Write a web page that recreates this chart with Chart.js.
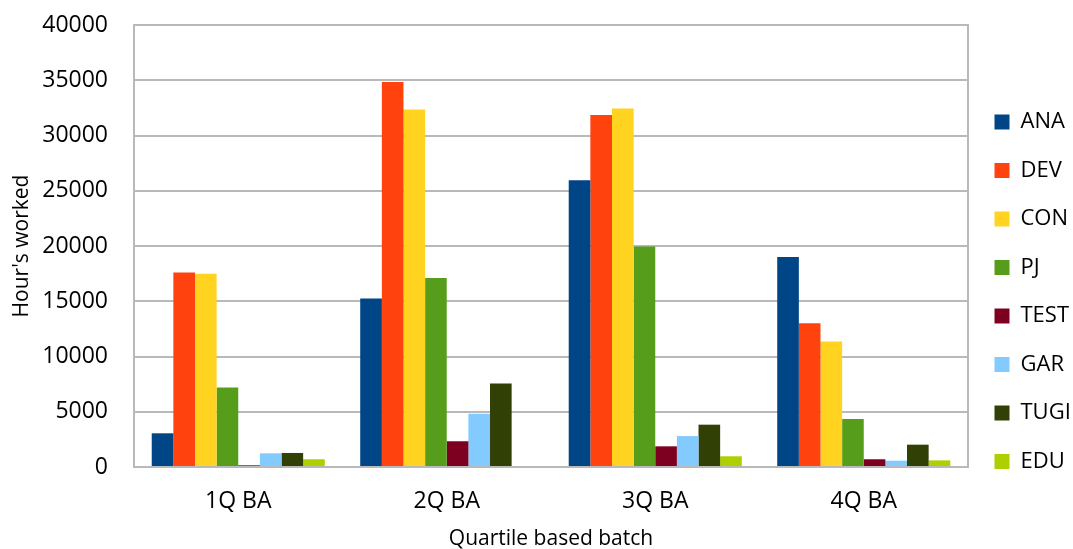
<!DOCTYPE html>
<html>
<head>
<meta charset="utf-8">
<script src="https://cdn.jsdelivr.net/npm/chart.js@4/dist/chart.umd.min.js"></script>
<style>
  body { margin: 0; background: #fff; }
  #wrap { width: 1073px; height: 549px; }
</style>
</head>
<body>
<div id="wrap"><canvas id="hoursChart"></canvas></div>
<script>
const batches = ['1Q BA', '2Q BA', '3Q BA', '4Q BA'];
const ANA  = [3050, 15250, 25950, 19000];
const DEV  = [17600, 34850, 31850, 13000];
const CON  = [17500, 32350, 32450, 11350];
const PJ   = [7200, 17100, 19950, 4350];
const TEST = [150, 2330, 1870, 700];
const GAR  = [1240, 4830, 2800, 570];
const TUGI = [1270, 7550, 3830, 2020];
const EDU  = [700, 0, 970, 600];
const yTicks = [0, 5000, 10000, 15000, 20000, 25000, 30000, 35000, 40000];

const grid = '#b9b9b9';

// frame around the plot area (left, right, top, bottom)
const frame = {
    id: 'frame',
    afterDatasetsDraw(chart) {
        const a = chart.chartArea;
        const ctx = chart.ctx;
        ctx.save();
        ctx.strokeStyle = grid;
        ctx.lineWidth = 2;
        ctx.strokeRect(a.left, a.top, a.right - a.left, a.bottom - a.top);
        ctx.restore();
    }
};

Chart.defaults.font.family = "'Open Sans', sans-serif";
Chart.defaults.color = '#000';

new Chart(document.getElementById('hoursChart').getContext('2d'), {
    type: 'bar',
    data: {
        labels: batches,
        datasets: [
            { label: 'ANA',  data: ANA,  backgroundColor: '#004586' },
            { label: 'DEV',  data: DEV,  backgroundColor: '#ff420e' },
            { label: 'CON',  data: CON,  backgroundColor: '#ffd320' },
            { label: 'PJ',   data: PJ,   backgroundColor: '#579d1c' },
            { label: 'TEST', data: TEST, backgroundColor: '#7e0021' },
            { label: 'GAR',  data: GAR,  backgroundColor: '#83caff' },
            { label: 'TUGI', data: TUGI, backgroundColor: '#314004' },
            { label: 'EDU',  data: EDU,  backgroundColor: '#aecf00' }
        ]
    },
    options: {
        responsive: true,
        maintainAspectRatio: false,
        animation: false,
        layout: { padding: { top: 25, right: 0, bottom: 0, left: 0 } },
        datasets: { bar: { categoryPercentage: 0.83, barPercentage: 1.0 } },
        plugins: {
            tooltip: { enabled: false },
            legend: {
                position: 'right',
                maxWidth: 105,
                // empty title only pushes the entries down a little
                title: { display: true, text: ' ', font: { size: 5 }, padding: 1.75 },
                labels: {
                    boxWidth: 15,
                    boxHeight: 15,
                    padding: 26.5,
                    font: { size: 22 }
                }
            }
        },
        scales: {
            x: {
                grid: { display: false, drawTicks: false },
                border: { display: false },
                ticks: { padding: 21, font: { size: 23 } },
                title: { display: true, text: 'Quartile based batch', font: { size: 21 }, padding: { top: 10, bottom: -3 } },
                afterFit(s) { s.height = 82; }
            },
            y: {
                min: 0,
                max: 40000,
                afterBuildTicks(s) { s.ticks = yTicks.map(v => ({ value: v })); },
                grid: { color: grid, lineWidth: 2, drawTicks: false },
                border: { display: false },
                ticks: { padding: 26, font: { size: 23 }, callback: v => String(v) },
                title: { display: true, text: "Hour's worked", font: { size: 21 }, padding: { top: 9.4, bottom: 0 } },
                afterFit(s) {
                    s.width = 134;
                    s.paddingTop = 0;
                    s.paddingBottom = 0;
                }
            }
        }
    },
    plugins: [frame]
});
</script>
</body>
</html>
